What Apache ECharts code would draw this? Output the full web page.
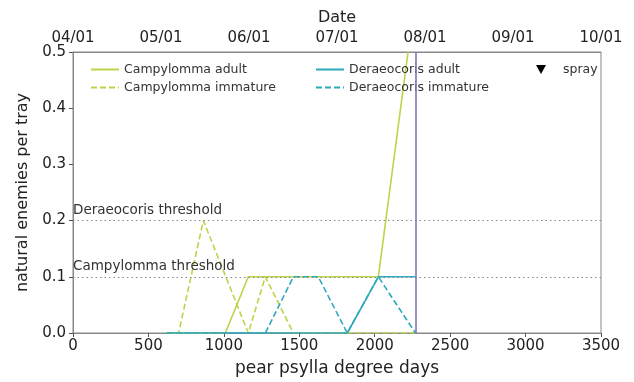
<!DOCTYPE html>
<html>
<head>
<meta charset="utf-8">
<script src="https://cdn.jsdelivr.net/npm/echarts@6/dist/echarts.min.js"></script>
<style>
html,body{margin:0;padding:0;background:#fff;}
#chart{width:634px;height:382px;}
</style>
</head>
<body>
<div id="chart"></div>
<script>
// ---- data ----
const campylommaAdult = [[620,0],[700,0],[864,0],[1010,0],[1162,0.1],[1275,0.1],[1461,0.1],[1626,0.1],[1818,0.1],[2024,0.1],[2270,0.6]];
const campylommaImmature = [[620,0],[700,0],[864,0.2],[1162,0],[1275,0.1],[1461,0],[1626,0],[1818,0],[2024,0],[2270,0]];
const deraeocorisAdult = [[620,0],[1010,0],[1461,0],[1818,0],[2024,0.1],[2270,0.1]];
const deraeocorisImmature = [[620,0],[1010,0],[1275,0],[1461,0.1],[1626,0.1],[1818,0],[2024,0.1],[2270,0]];
const sprayEvents = [];
const currentDegreeDays = 2270;
const thresholdValues = [0.2, 0.1];
const thresholdNames = ['Deraeocoris threshold', 'Campylomma threshold'];
const dateTicks = ['04/01','05/01','06/01','07/01','08/01','09/01','10/01'];

const GREEN = '#b9d54a';
const TEAL = '#2eaabb';
const PURPLE = '#7c7ab8';
const FONT = 'DejaVu Sans';

const chart = echarts.init(document.getElementById('chart'));

const thresholdMarks = thresholdValues.map((v, i) => ({
  yAxis: v,
  label: {formatter: thresholdNames[i]}
}));

const legendText = {fontFamily: FONT, fontSize: 12.5, color: '#333'};

const option = {
  animation: false,
  backgroundColor: '#fff',
  textStyle: {fontFamily: FONT},
  grid: {left: 73, right: 33, top: 52, bottom: 45, show: true, borderColor: '#888', borderWidth: 1, backgroundColor: 'transparent'},
  legend: [
    {left: 85, top: 58, orient: 'vertical', itemWidth: 28, itemHeight: 14, itemGap: 5,
     itemStyle: {opacity: 0}, textStyle: legendText,
     data: ['Campylomma adult', 'Campylomma immature']},
    {left: 310, top: 58, orient: 'vertical', itemWidth: 28, itemHeight: 14, itemGap: 5,
     itemStyle: {opacity: 0}, textStyle: legendText,
     data: ['Deraeocoris adult', 'Deraeocoris immature']},
    {left: 531, top: 58, orient: 'vertical', itemWidth: 10, itemHeight: 14,
     textStyle: Object.assign({}, legendText, {padding: [0,0,0,12]}),
     data: [{name: 'spray', icon: 'path://M0,0 L10,0 L5,9 Z', itemStyle: {color: '#000', opacity: 1}}]}
  ],
  xAxis: [
    {type: 'value', position: 'bottom', min: 0, max: 3500, interval: 500,
     name: 'pear psylla degree days', nameLocation: 'middle', nameGap: 27,
     nameTextStyle: {fontFamily: FONT, fontSize: 17, color: '#222'},
     axisLine: {show: true, lineStyle: {color: '#888'}},
     axisTick: {show: true, length: 4, lineStyle: {color: '#555'}},
     axisLabel: {fontFamily: FONT, fontSize: 15, color: '#222', margin: 6, formatter: v => String(v)},
     splitLine: {show: false}},
    {type: 'value', position: 'top', min: 0, max: dateTicks.length - 1, interval: 1,
     name: 'Date', nameLocation: 'middle', nameGap: 25,
     nameTextStyle: {fontFamily: FONT, fontSize: 16, color: '#222'},
     axisLine: {show: true, lineStyle: {color: '#888'}},
     axisTick: {show: false},
     axisLabel: {fontFamily: FONT, fontSize: 15, color: '#222', margin: 6,
       formatter: v => dateTicks[Math.round(v)] || ''},
     splitLine: {show: false}}
  ],
  yAxis: {type: 'value', min: 0, max: 0.5, interval: 0.1,
    name: 'natural enemies per tray', nameLocation: 'middle', nameGap: 41,
    nameTextStyle: {fontFamily: FONT, fontSize: 16, color: '#222'},
    axisLine: {show: true, lineStyle: {color: '#888'}},
    axisTick: {show: true, length: 4, lineStyle: {color: '#555'}},
    axisLabel: {fontFamily: FONT, fontSize: 15, color: '#222', margin: 7, formatter: v => v.toFixed(1)},
    splitLine: {show: false}},
  series: [
    {name: 'Campylomma adult', type: 'line', data: campylommaAdult, symbol: 'none', color: GREEN,
     lineStyle: {width: 1.6, color: GREEN}, z: 3,
     markLine: {silent: true, symbol: 'none',
       lineStyle: {type: [1.5, 3], color: '#888', width: 1},
       label: {position: 'insideStartTop', distance: [0, 3], fontFamily: FONT, fontSize: 13.5, color: '#333'},
       data: thresholdMarks}},
    {name: 'Campylomma immature', type: 'line', data: campylommaImmature, symbol: 'none', color: GREEN,
     lineStyle: {width: 1.6, color: GREEN, type: [6, 3]}, z: 2},
    {name: 'Deraeocoris adult', type: 'line', data: deraeocorisAdult, symbol: 'none', color: TEAL,
     lineStyle: {width: 1.6, color: TEAL}, z: 4},
    {name: 'Deraeocoris immature', type: 'line', data: deraeocorisImmature, symbol: 'none', color: TEAL,
     lineStyle: {width: 1.6, color: TEAL, type: [6, 3]}, z: 4,
     markLine: {silent: true, symbol: 'none', label: {show: false},
       lineStyle: {type: 'solid', color: PURPLE, width: 1.6},
       data: [{xAxis: currentDegreeDays}]}},
    {name: 'spray', type: 'scatter', data: sprayEvents, symbol: 'path://M0,0 L10,0 L5,9 Z', symbolSize: 10, color: '#000'}
  ]
};
chart.setOption(option);
</script>
</body>
</html>
